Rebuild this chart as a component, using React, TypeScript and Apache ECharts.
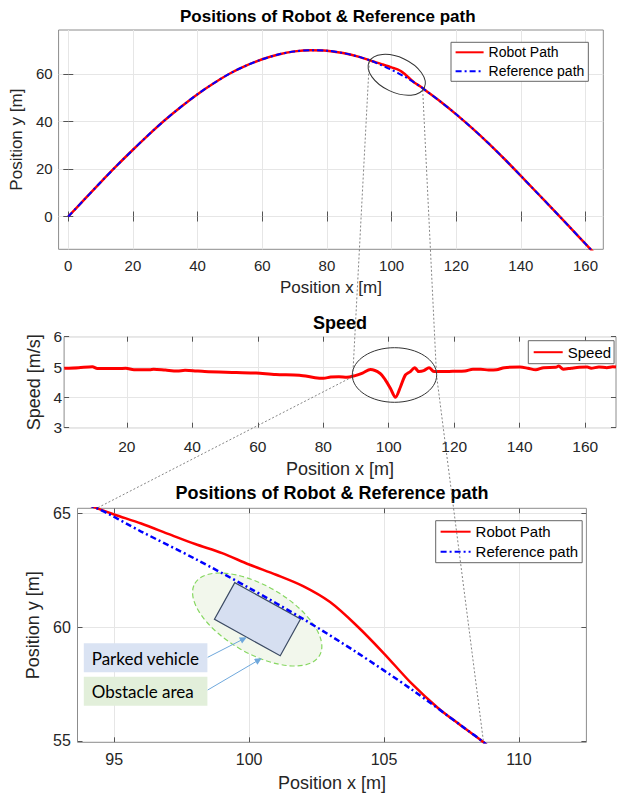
import React, { useEffect, useRef } from 'react';
import * as echarts from 'echarts';

// ---------------- data ----------------
const refX = [0, 5, 10, 15, 20, 25, 30, 35, 40, 45, 50, 55, 60, 65, 70, 75, 80, 85, 90,
  94.3, 96, 98, 100, 102, 104, 106, 108, 108.7,
  110, 115, 120, 125, 130, 135, 140, 145, 150, 155, 160, 162.5];
const refY = [0, 7.2, 14.4, 21.4, 28.1, 34.6, 40.7, 46.3, 51.5, 56.1, 60.2, 63.5, 66.2, 68.2, 69.5, 70.0, 69.8, 68.8, 67.2,
  65.25, 64.2, 63.0, 61.72, 60.36, 58.88, 57.28, 55.55, 54.93,
  53.6, 48.5, 43.0, 37.1, 30.8, 24.1, 17.1, 10.0, 2.9, -4.3, -11.5, -15.1];

const robotX = [0, 5, 10, 15, 20, 25, 30, 35, 40, 45, 50, 55, 60, 65, 70, 75, 80, 85, 90,
  94.3, 95, 96, 97, 98, 99, 100, 101, 102, 103, 104, 105, 106, 107, 107.8, 108.7,
  110, 115, 120, 125, 130, 135, 140, 145, 150, 155, 160, 162.5];
const robotY = [0, 7.2, 14.4, 21.4, 28.1, 34.6, 40.7, 46.3, 51.5, 56.1, 60.2, 63.5, 66.2, 68.2, 69.5, 70.0, 69.8, 68.8, 67.2,
  65.25, 64.95, 64.55, 64.1, 63.65, 63.25, 62.75, 62.3, 61.8, 61.1, 60.05, 58.84, 57.55, 56.45, 55.72, 54.93,
  53.6, 48.5, 43.0, 37.1, 30.8, 24.1, 17.1, 10.0, 2.9, -4.3, -11.5, -15.1];

const speedX = [0.9, 5.3, 9.5, 11, 17.4, 19.7, 22.2, 27, 28.2, 31.8, 35.4, 37.8, 40.2, 43.8, 53.5, 59.5, 65.5, 72.7,
  77.5, 80, 82.3, 84.8, 87.2, 89.5, 92, 94.4, 97.4, 99, 100.5, 102.05, 103.6, 105.1, 106.6, 107.9, 109.2, 110.7,
  112.3, 113.8, 115.8, 119.6, 123.3, 125.7, 128.1, 130.5, 132.9, 135.3, 140.1, 142.5, 144.9, 147.3, 151, 151.9,
  153.3, 155.7, 158.2, 160.6, 161.8, 164.2, 166.6, 168.4, 169.4];
const speedY = [4.96, 4.98, 5.01, 4.95, 4.95, 4.96, 4.91, 4.91, 4.93, 4.90, 4.87, 4.89, 4.88, 4.85, 4.82, 4.80, 4.75, 4.73,
  4.65, 4.63, 4.67, 4.68, 4.66, 4.71, 4.80, 4.92, 4.79, 4.57, 4.30, 4.00, 4.35, 4.74, 4.85, 4.98, 4.85, 4.88,
  4.98, 4.85, 4.85, 4.86, 4.87, 4.93, 4.93, 4.90, 4.91, 4.98, 5.00, 4.96, 4.91, 4.98, 4.99, 5.03,
  4.93, 4.96, 4.99, 5.00, 4.96, 5.00, 4.98, 5.01, 5.0];

const pathXTicks = [0, 20, 40, 60, 80, 100, 120, 140, 160];
const pathYTicks = [0, 20, 40, 60];
const speedXTicks = [20, 40, 60, 80, 100, 120, 140, 160];
const speedYTicks = [3, 4, 5, 6];
const zoomXTicks = [95, 100, 105, 110];
const zoomYTicks = [55, 60, 65];

const titles = ['Positions of Robot & Reference path', 'Speed', 'Positions of Robot & Reference path'];
const seriesNames = ['Robot Path', 'Reference path', 'Speed'];
const xName = 'Position x [m]';
const yNames = ['Position y [m]', 'Speed [m/s]', 'Position y [m]'];
const noteLabels = ['Parked vehicle', 'Obstacle area'];

// ---------------- styling ----------------
const FONT = "'Liberation Sans', Arial, Helvetica, sans-serif";
const TXT = '#262626';
const FRAME = '#8c8c8c';
const GRIDLINE = '#e6e6e6';
const RED = '#ff0000';
const BLUE = '#0000ff';
const DASHDOT = [6, 3, 2, 3];

const grids = [
  { left: 52.3, top: 30, width: 551, height: 219.3 },
  { left: 64.1, top: 336.7, width: 551.9, height: 91 },
  { left: 77.5, top: 508.3, width: 508.9, height: 234 },
];

function pairs(xs: number[], ys: number[]) {
  return xs.map((x, i) => [x, ys[i]]);
}

function xAxes(gi: number, min: number, max: number, ticks: number[], fs: number, nfs: number, margin: number, nameGap: number) {
  const tick = { show: true, inside: true, length: 5, lineStyle: { color: '#555' }, customValues: ticks };
  return [
    {
      type: 'value', gridIndex: gi, position: 'bottom', min, max,
      axisLine: { show: false },
      axisTick: tick,
      axisLabel: { customValues: ticks, margin, fontSize: fs, color: TXT, fontFamily: FONT },
      splitLine: { show: true, lineStyle: { color: GRIDLINE, width: 1 } },
      name: xName, nameLocation: 'middle', nameGap,
      nameTextStyle: { fontSize: nfs, color: TXT, fontFamily: FONT },
    },
    {
      type: 'value', gridIndex: gi, position: 'top', min, max,
      axisLine: { show: false }, axisTick: tick, axisLabel: { show: false }, splitLine: { show: false },
    },
  ];
}

function yAxes(gi: number, min: number, max: number, ticks: number[], fs: number, nfs: number, margin: number, nameGap: number, name: string) {
  const tick = { show: true, inside: true, length: 5, lineStyle: { color: '#555' }, customValues: ticks };
  return [
    {
      type: 'value', gridIndex: gi, position: 'left', min, max,
      axisLine: { show: false },
      axisTick: tick,
      axisLabel: { customValues: ticks, margin, fontSize: fs, color: TXT, fontFamily: FONT },
      splitLine: { show: true, lineStyle: { color: GRIDLINE, width: 1 } },
      name, nameLocation: 'middle', nameGap,
      nameTextStyle: { fontSize: nfs, color: TXT, fontFamily: FONT },
    },
    {
      type: 'value', gridIndex: gi, position: 'right', min, max,
      axisLine: { show: false }, axisTick: tick, axisLabel: { show: false }, splitLine: { show: false },
    },
  ];
}

const deg = Math.PI / 180;

function buildOption() {
  const robot = pairs(robotX, robotY);
  const refp = pairs(refX, refY);
  const speed = pairs(speedX, speedY);

  const legendBase = {
    orient: 'vertical', selectedMode: false, backgroundColor: '#fff',
    borderColor: '#666', borderWidth: 1, borderRadius: 0,
    itemStyle: { opacity: 0 },
  };

  return {
    animation: false,
    backgroundColor: '#fff',
    title: [
      { text: titles[0], left: grids[0].left + grids[0].width / 2, top: 7.5, textAlign: 'center', padding: 0,
        textStyle: { fontSize: 17, fontWeight: 'bold', color: '#000', fontFamily: FONT } },
      { text: titles[1], left: grids[1].left + grids[1].width / 2, top: 313.8, textAlign: 'center', padding: 0,
        textStyle: { fontSize: 18, fontWeight: 'bold', color: '#000', fontFamily: FONT } },
      { text: titles[2], left: grids[2].left + grids[2].width / 2, top: 484, textAlign: 'center', padding: 0,
        textStyle: { fontSize: 18, fontWeight: 'bold', color: '#000', fontFamily: FONT } },
    ],
    grid: grids.map((g) => ({ ...g, show: true, borderColor: FRAME, borderWidth: 1, backgroundColor: 'transparent', containLabel: false })),
    xAxis: [
      ...xAxes(0, -3, 165.5, pathXTicks, 15, 17, 9, 30),
      ...xAxes(1, 0.86, 169.4, speedXTicks, 15.5, 18, 10.3, 32.3),
      ...xAxes(2, 93.64, 112.5, zoomXTicks, 16, 18, 9, 31.2),
    ],
    yAxis: [
      ...yAxes(0, -13.8, 78.5, pathYTicks, 15, 17, 6, 28, yNames[0]),
      ...yAxes(1, 3, 6, speedYTicks, 15.5, 18, 2, 11, yNames[1]),
      ...yAxes(2, 54.94, 65.22, zoomYTicks, 16, 18, 6.7, 29.5, yNames[2]),
    ],
    legend: [
      { ...legendBase, data: [seriesNames[0], seriesNames[1]], left: 451, top: 42.3,
        itemWidth: 28, itemHeight: 14, itemGap: 5, padding: [3, 4, 3, 3.6],
        textStyle: { fontSize: 14, color: '#000', fontFamily: FONT } },
      { ...legendBase, data: [seriesNames[2]], left: 528.3, top: 340.7,
        itemWidth: 29, itemHeight: 14, itemGap: 5, padding: [4, 3, 4, 4.4],
        textStyle: { fontSize: 15, color: '#000', fontFamily: FONT } },
      { ...legendBase, data: [seriesNames[0], seriesNames[1]], left: 435.7, top: 520.7,
        itemWidth: 30, itemHeight: 15, itemGap: 5, padding: [3.5, 4, 3.5, 3.9],
        textStyle: { fontSize: 15, color: '#000', fontFamily: FONT } },
    ],
    series: [
      { name: seriesNames[0], type: 'line', xAxisIndex: 0, yAxisIndex: 0, data: robot, symbol: 'none', smooth: 0.3,
        lineStyle: { color: RED, width: 2.5 }, itemStyle: { color: RED }, z: 2 },
      { name: seriesNames[1], type: 'line', xAxisIndex: 0, yAxisIndex: 0, data: refp, symbol: 'none', smooth: 0.3,
        lineStyle: { color: BLUE, width: 2, type: DASHDOT }, itemStyle: { color: BLUE }, z: 3 },
      { name: seriesNames[2], type: 'line', xAxisIndex: 2, yAxisIndex: 2, data: speed, symbol: 'none', smooth: 0.3,
        lineStyle: { color: RED, width: 3 }, itemStyle: { color: RED }, z: 2 },
      { name: seriesNames[0], type: 'line', xAxisIndex: 4, yAxisIndex: 4, data: robot, symbol: 'none', smooth: 0.3,
        lineStyle: { color: RED, width: 2.5 }, itemStyle: { color: RED }, z: 2 },
      { name: seriesNames[1], type: 'line', xAxisIndex: 4, yAxisIndex: 4, data: refp, symbol: 'none', smooth: 0.3,
        lineStyle: { color: BLUE, width: 2.5, type: DASHDOT }, itemStyle: { color: BLUE }, z: 3 },
    ],
    graphic: [
      // obstacle area and parked vehicle (below the lines)
      { type: 'ellipse', x: 257.2, y: 619.5, rotation: -30 * deg, z: 1,
        shape: { cx: 0, cy: 0, rx: 72, ry: 34 },
        style: { fill: '#f2f7ec', stroke: '#86d760', lineWidth: 1.2, lineDash: [5, 3] } },
      { type: 'rect', x: 257.5, y: 619.2, rotation: -29 * deg, z: 1,
        shape: { x: -37.6, y: -20.95, width: 75.2, height: 41.9 },
        style: { fill: '#d6dff1', stroke: '#3b4a63', lineWidth: 1.2 } },
      // zoom ellipses
      { type: 'ellipse', x: 396.7, y: 74.8, rotation: -25 * deg, z: 50,
        shape: { cx: 0, cy: 0, rx: 30.5, ry: 17.5 },
        style: { fill: 'none', stroke: '#333', lineWidth: 1 } },
      { type: 'ellipse', z: 50, shape: { cx: 394.5, cy: 375, rx: 42.2, ry: 27.3 },
        style: { fill: 'none', stroke: '#333', lineWidth: 1 } },
      // connector dotted lines
      { type: 'polyline', z: 50, shape: { points: [[369.3, 61.7], [352.7, 376.7], [96.7, 508.3]] },
        style: { fill: 'none', stroke: '#666', lineWidth: 0.8, lineDash: [2, 2] } },
      { type: 'polyline', z: 50, shape: { points: [[422.7, 90], [436.5, 375], [483.5, 742]] },
        style: { fill: 'none', stroke: '#666', lineWidth: 0.8, lineDash: [2, 2] } },
      // label boxes
      { type: 'rect', z: 60, shape: { x: 83.8, y: 643.3, width: 123.6, height: 29 }, style: { fill: '#dae3f3' } },
      { type: 'text', z: 61, x: 91.7, y: 658, style: { text: noteLabels[0], fill: '#000', fontSize: 17, fontFamily: 'Lato', verticalAlign: 'middle', align: 'left' } },
      { type: 'rect', z: 60, shape: { x: 83.8, y: 676.7, width: 123.6, height: 29 }, style: { fill: '#e2efda' } },
      { type: 'text', z: 61, x: 91.7, y: 691.4, style: { text: noteLabels[1], fill: '#000', fontSize: 17, fontFamily: 'Lato', verticalAlign: 'middle', align: 'left' } },
      // arrows
      { type: 'line', z: 60, shape: { x1: 207.7, y1: 657.3, x2: 241.5, y2: 640 }, style: { stroke: '#6fa8dc', lineWidth: 1 } },
      { type: 'polygon', z: 60, shape: { points: [[246.7, 637.3], [242.1, 643.6], [238.9, 637.4]] }, style: { fill: '#6fa8dc' } },
      { type: 'line', z: 60, shape: { x1: 207.7, y1: 690, x2: 256.5, y2: 661.3 }, style: { stroke: '#6fa8dc', lineWidth: 1 } },
      { type: 'polygon', z: 60, shape: { points: [[261.7, 658.3], [257.4, 664.8], [253.9, 658.8]] }, style: { fill: '#6fa8dc' } },
    ],
  };
}

export default function App() {
  const ref = useRef<HTMLDivElement>(null);
  useEffect(() => {
    if (!ref.current) return;
    const chart = echarts.init(ref.current, null, { renderer: 'svg', width: 617, height: 793 });
    chart.setOption(buildOption() as any);
    return () => chart.dispose();
  }, []);
  return (
    <div
      ref={ref}
      style={{ position: 'fixed', left: 0, top: 0, width: 617, height: 793, background: '#fff' }}
    />
  );
}
